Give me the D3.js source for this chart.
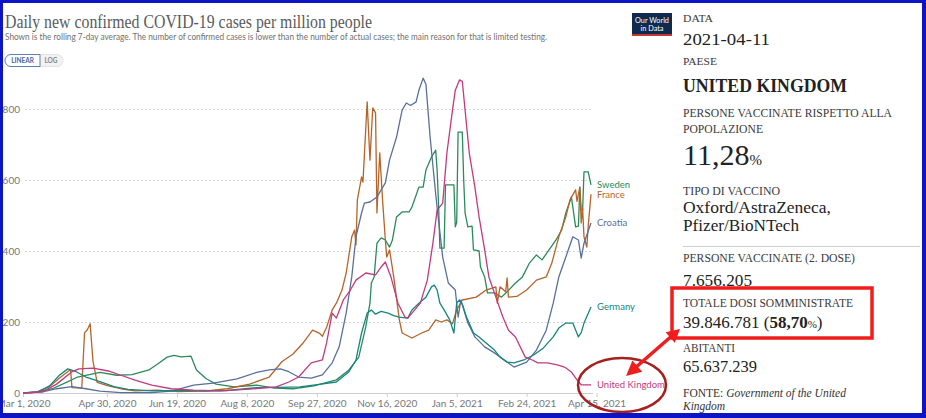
<!DOCTYPE html>
<html>
<head>
<meta charset="utf-8">
<script src="https://cdn.jsdelivr.net/npm/d3@7"></script>
<style>
  body { margin: 0; background: #fff; }
  svg { display: block; }
</style>
</head>
<body>
<div id="chart"></div>
<script>
// Series: [date, cases per million]
const sweden = [
  ["2020-03-01",0],["2020-03-12",3],["2020-03-22",12],["2020-04-01",30],["2020-04-09",45],["2020-04-25",58],
  ["2020-05-07",50],["2020-05-18",52],["2020-05-30",65],["2020-06-06",84],["2020-06-12",101],["2020-06-17",106],
  ["2020-06-22",102],["2020-06-29",104],["2020-07-03",65],["2020-07-10",40],["2020-07-17",25],["2020-07-30",17],
  ["2020-08-15",22],["2020-08-28",14],["2020-09-10",12],["2020-09-25",20],["2020-10-11",37],["2020-10-20",65],
  ["2020-10-27",101],["2020-11-01",186],["2020-11-04",253],["2020-11-05",310],["2020-11-07",327],["2020-11-09",422],
  ["2020-11-12",437],["2020-11-15",431],["2020-11-18",411],["2020-11-20",430],["2020-11-23",496],["2020-11-27",510],
  ["2020-12-02",510],["2020-12-04",524],["2020-12-09",580],["2020-12-12",580],["2020-12-14",628],["2020-12-18",665],
  ["2020-12-21",684],["2020-12-22",628],["2020-12-23",535],["2020-12-24",408],["2020-12-27",408],["2020-12-28",586],
  ["2021-01-03",586],["2021-01-04",468],["2021-01-05",480],["2021-01-06",735],["2021-01-09",735],["2021-01-10",600],
  ["2021-01-11",507],["2021-01-13",468],["2021-01-16",470],["2021-01-17",403],["2021-01-21",400],["2021-01-22",355],
  ["2021-01-25",327],["2021-01-27",282],["2021-02-01",282],["2021-02-06",270],["2021-02-10",285],["2021-02-16",310],
  ["2021-02-21",327],["2021-02-26",366],["2021-03-03",389],["2021-03-07",375],["2021-03-12",403],["2021-03-17",431],
  ["2021-03-21",459],["2021-03-24",507],["2021-03-28",552],["2021-03-31",468],["2021-04-02",470],["2021-04-03",580],
  ["2021-04-04",515],["2021-04-05",515],["2021-04-06",623],["2021-04-09",623],["2021-04-11",586]
];
const france = [
  ["2020-03-01",0],["2020-03-10",2],["2020-03-20",18],["2020-03-28",45],["2020-04-04",66],["2020-04-05",15],
  ["2020-04-12",14],["2020-04-14",170],["2020-04-16",178],["2020-04-18",195],["2020-04-20",90],["2020-04-23",30],
  ["2020-05-01",20],["2020-05-10",12],["2020-05-20",6],["2020-06-05",8],["2020-06-20",4],["2020-07-10",6],
  ["2020-07-25",12],["2020-08-10",25],["2020-08-24",45],["2020-09-02",88],["2020-09-10",110],["2020-09-17",140],
  ["2020-09-24",177],["2020-09-29",168],["2020-10-01",160],["2020-10-04",185],["2020-10-08",234],["2020-10-11",253],
  ["2020-10-15",290],["2020-10-18",338],["2020-10-22",440],["2020-10-24",459],["2020-10-25",417],["2020-10-26",544],
  ["2020-10-29",609],["2020-10-30",594],["2020-11-02",820],["2020-11-04",656],["2020-11-06",803],["2020-11-08",789],
  ["2020-11-09",507],["2020-11-11",676],["2020-11-13",544],["2020-11-15",431],["2020-11-16",383],["2020-11-18",403],
  ["2020-11-21",327],["2020-11-25",206],["2020-11-27",169],["2020-12-04",155],["2020-12-11",169],["2020-12-16",177],
  ["2020-12-21",206],["2020-12-25",200],["2020-12-29",206],["2021-01-02",195],["2021-01-05",234],["2021-01-09",262],
  ["2021-01-19",270],["2021-01-26",290],["2021-02-02",299],["2021-02-03",253],["2021-02-05",299],["2021-02-09",285],
  ["2021-02-10",324],["2021-02-11",270],["2021-02-17",272],["2021-02-24",290],["2021-03-03",318],["2021-03-10",327],
  ["2021-03-14",366],["2021-03-19",440],["2021-03-24",496],["2021-03-27",544],["2021-03-31",572],["2021-04-01",540],
  ["2021-04-03",580],["2021-04-04",479],["2021-04-05",520],["2021-04-06",440],["2021-04-08",411],["2021-04-09",470],
  ["2021-04-11",560]
];
const croatia = [
  ["2020-03-01",0],["2020-03-15",3],["2020-03-25",12],["2020-04-05",18],["2020-04-15",12],["2020-04-25",5],
  ["2020-05-10",1],["2020-06-01",1],["2020-06-15",5],["2020-07-01",22],["2020-07-15",28],["2020-08-01",40],
  ["2020-08-15",58],["2020-08-24",65],["2020-09-01",68],["2020-09-07",60],["2020-09-14",45],["2020-09-23",42],
  ["2020-10-01",51],["2020-10-08",85],["2020-10-13",130],["2020-10-18",225],["2020-10-22",327],["2020-10-25",440],
  ["2020-10-29",507],["2020-10-31",535],["2020-11-04",538],["2020-11-09",552],["2020-11-15",592],["2020-11-18",656],
  ["2020-11-23",721],["2020-11-27",797],["2020-11-30",817],["2020-12-03",810],["2020-12-07",820],["2020-12-09",853],
  ["2020-12-12",887],["2020-12-14",870],["2020-12-17",721],["2020-12-21",560],["2020-12-23",487],["2020-12-26",383],
  ["2020-12-30",310],["2021-01-04",290],["2021-01-06",214],["2021-01-08",262],["2021-01-13",197],["2021-01-18",158],
  ["2021-01-25",130],["2021-02-01",113],["2021-02-08",93],["2021-02-15",73],["2021-02-24",87],["2021-03-03",121],
  ["2021-03-10",177],["2021-03-15",253],["2021-03-19",327],["2021-03-24",383],["2021-03-29",440],["2021-04-02",431],
  ["2021-04-04",380],["2021-04-06",422],["2021-04-11",479]
];
const germany = [
  ["2020-03-01",0],["2020-03-12",3],["2020-03-20",20],["2020-03-27",50],["2020-04-02",68],["2020-04-08",60],
  ["2020-04-15",45],["2020-04-25",32],["2020-05-05",18],["2020-05-15",10],["2020-06-01",6],["2020-06-20",7],
  ["2020-07-10",5],["2020-07-25",7],["2020-08-15",15],["2020-08-30",16],["2020-09-15",17],["2020-09-30",25],
  ["2020-10-11",31],["2020-10-20",60],["2020-10-25",93],["2020-10-29",169],["2020-11-02",225],["2020-11-05",234],
  ["2020-11-08",222],["2020-11-12",230],["2020-11-17",225],["2020-11-21",218],["2020-11-25",214],["2020-12-01",211],
  ["2020-12-04",234],["2020-12-09",253],["2020-12-14",270],["2020-12-18",299],["2020-12-20",304],["2020-12-22",290],
  ["2020-12-24",253],["2020-12-27",234],["2020-12-31",206],["2021-01-03",169],["2021-01-05",253],["2021-01-07",262],
  ["2021-01-09",250],["2021-01-12",214],["2021-01-17",169],["2021-01-21",158],["2021-01-26",141],["2021-02-01",121],
  ["2021-02-05",101],["2021-02-10",87],["2021-02-15",85],["2021-02-22",93],["2021-03-01",107],["2021-03-08",127],
  ["2021-03-15",158],["2021-03-19",183],["2021-03-24",197],["2021-03-29",197],["2021-04-02",158],["2021-04-04",170],
  ["2021-04-06",197],["2021-04-11",242]
];
const unitedKingdom = [
  ["2020-03-01",0],["2020-03-15",3],["2020-03-25",25],["2020-04-05",60],["2020-04-10",68],["2020-04-20",70],
  ["2020-05-01",62],["2020-05-10",50],["2020-05-20",36],["2020-06-01",22],["2020-06-15",12],["2020-07-01",8],
  ["2020-07-20",6],["2020-08-10",11],["2020-08-29",17],["2020-09-07",31],["2020-09-14",45],["2020-09-23",85],
  ["2020-10-01",93],["2020-10-04",141],["2020-10-08",225],["2020-10-11",211],["2020-10-16",262],["2020-10-21",290],
  ["2020-10-25",318],["2020-11-01",338],["2020-11-08",333],["2020-11-12",355],["2020-11-15",369],["2020-11-19",327],
  ["2020-11-24",253],["2020-11-29",214],["2020-12-01",211],["2020-12-06",234],["2020-12-10",253],["2020-12-15",318],
  ["2020-12-19",422],["2020-12-22",515],["2020-12-26",535],["2020-12-29",676],["2021-01-02",797],["2021-01-04",853],
  ["2021-01-07",882],["2021-01-09",878],["2021-01-11",797],["2021-01-14",676],["2021-01-18",580],["2021-01-21",496],
  ["2021-01-25",403],["2021-01-28",327],["2021-02-02",270],["2021-02-07",214],["2021-02-11",177],["2021-02-16",158],
  ["2021-02-23",101],["2021-02-28",93],["2021-03-04",85],["2021-03-11",85],["2021-03-18",79],["2021-03-23",73],
  ["2021-03-28",59],["2021-04-01",37],["2021-04-04",23],["2021-04-11",23]
];

const countries = ["Sweden", "France", "Croatia", "Germany", "United Kingdom"];
const seriesValues = [sweden, france, croatia, germany, unitedKingdom];
const colors = ["#2b8a5c", "#b5652a", "#5a6f9c", "#16857f", "#c23a82"];

const xTicks = ["2020-03-01","2020-04-30","2020-06-19","2020-08-08","2020-09-27","2020-11-16","2021-01-05","2021-02-24","2021-04-15"];
const yTicks = [0, 200, 400, 600, 800];

const svg = d3.select("#chart").append("svg")
    .attr("width", 926)
    .attr("height", 418);

const parse = d3.utcParse("%Y-%m-%d");

// Scales
const x = d3.scaleUtc()
    .domain([parse("2020-03-01"), parse("2021-04-11")])
    .range([23, 591]);
const y = d3.scaleLinear()
    .domain([0, 800])
    .range([393, 109]);

// Title and subtitle
svg.append("text")
    .attr("x", 5).attr("y", 28)
    .attr("font-family", "Liberation Serif, serif")
    .attr("font-size", 19)
    .attr("fill", "#5b5b5b")
    .attr("textLength", 367).attr("lengthAdjust", "spacingAndGlyphs")
    .text("Daily new confirmed COVID-19 cases per million people");

svg.append("text")
    .attr("x", 5).attr("y", 39.5)
    .attr("font-family", "Lato, sans-serif")
    .attr("font-size", 9.4)
    .attr("fill", "#707070")
    .attr("textLength", 542).attr("lengthAdjust", "spacingAndGlyphs")
    .text("Shown is the rolling 7-day average. The number of confirmed cases is lower than the number of actual cases; the main reason for that is limited testing.");

// LINEAR / LOG toggle
const toggle = svg.append("g").attr("font-family", "Lato, sans-serif").attr("font-size", 6.5).attr("font-weight", 700);
toggle.append("rect").attr("x", 5).attr("y", 54.5).attr("width", 58).attr("height", 12).attr("rx", 6)
    .attr("fill", "#f2f2f2").attr("stroke", "#dcdcdc").attr("stroke-width", 0.8);
toggle.append("path").attr("d", "M40,54.5 H11 A6,6 0 0 0 11,66.5 H40 Z")
    .attr("fill", "#fff").attr("stroke", "#5a82b8").attr("stroke-width", 1);
toggle.append("text").attr("x", 22.5).attr("y", 62.8).attr("text-anchor", "middle").attr("fill", "#3f68a8").text("LINEAR");
toggle.append("text").attr("x", 51).attr("y", 62.8).attr("text-anchor", "middle").attr("fill", "#888").text("LOG");

// Our World in Data logo
const logo = svg.append("g");
logo.append("rect").attr("x", 632).attr("y", 13).attr("width", 40).attr("height", 23).attr("fill", "#0f2a4d");
logo.append("rect").attr("x", 632).attr("y", 34).attr("width", 40).attr("height", 2).attr("fill", "#c5382f");
logo.append("text").attr("x", 652).attr("y", 22.5).attr("text-anchor", "middle")
    .attr("font-family", "Lato, sans-serif").attr("font-size", 7.3).attr("fill", "#fff").text("Our World");
logo.append("text").attr("x", 652).attr("y", 30.5).attr("text-anchor", "middle")
    .attr("font-family", "Lato, sans-serif").attr("font-size", 7.3).attr("fill", "#fff").text("in Data");

// Y axis with dashed grid
const yAxis = svg.append("g")
    .attr("transform", "translate(25,0)")
    .call(d3.axisLeft(y).tickValues(yTicks).tickSize(-568).tickPadding(5));
yAxis.select(".domain").remove();
yAxis.selectAll(".tick line")
    .attr("stroke", d => d === 0 ? "none" : "#d6d6d6")
    .attr("stroke-dasharray", "2,2");
yAxis.selectAll("text")
    .attr("font-family", "Lato, sans-serif").attr("font-size", 10).attr("fill", "#777");

// X axis
const xAxis = svg.append("g")
    .attr("transform", "translate(0,393)")
    .call(d3.axisBottom(x)
        .tickValues(xTicks.map(parse))
        .tickFormat(d3.utcFormat("%b %-d, %Y"))
        .tickSize(4).tickSizeOuter(0).tickPadding(3));
xAxis.select(".domain").attr("stroke", "#ccc").attr("d", "M23,0.5H593");
xAxis.selectAll(".tick line").attr("stroke", "#ccc");
xAxis.selectAll("text")
    .attr("font-family", "Lato, sans-serif").attr("font-size", 10).attr("fill", "#777");

// Lines
const line = d3.line()
    .x(d => x(parse(d[0])))
    .y(d => y(d[1]));

svg.selectAll(".series")
    .data(seriesValues)
    .enter()
    .append("path")
    .attr("class", "series")
    .attr("d", line)
    .attr("fill", "none")
    .attr("stroke", (d, i) => colors[i])
    .attr("stroke-width", 1.3)
    .attr("stroke-linejoin", "round");

// End labels
svg.selectAll(".label")
    .data(seriesValues)
    .enter()
    .append("text")
    .attr("class", "label")
    .attr("x", 597)
    .attr("y", d => y(d[d.length - 1][1]))
    .attr("dy", "0.35em")
    .attr("font-family", "Lato, sans-serif")
    .attr("font-size", 9.5)
    .attr("fill", (d, i) => colors[i])
    .text((d, i) => countries[i]);

// Right-hand info panel
const panel = svg.append("g").attr("font-family", "Liberation Serif, serif");
const items = [
    ["DATA", 22, 11, 400, 30, "#3a3a3a"],
    ["2021-04-11", 45, 17, 400, 87, "#222"],
    ["PAESE", 65, 11, 400, 34, "#3a3a3a"],
    ["UNITED KINGDOM", 92, 19, 700, 164, "#222"],
    ["PERSONE VACCINATE RISPETTO ALLA", 117, 11.5, 400, 209, "#3a3a3a"],
    ["POPOLAZIONE", 133, 11.5, 400, 80, "#3a3a3a"],
    ["TIPO DI VACCINO", 195, 11.5, 400, 97, "#3a3a3a"],
    ["Oxford/AstraZeneca,", 213, 17, 400, 148, "#222"],
    ["Pfizer/BioNTech", 231, 17, 400, 116, "#222"],
    ["PERSONE VACCINATE (2. DOSE)", 262, 11.5, 400, 172, "#3a3a3a"],
    ["7.656.205", 286, 17, 400, 69, "#222"],
    ["TOTALE DOSI SOMMINISTRATE", 307, 11.5, 400, 170, "#3a3a3a"],
    ["ABITANTI", 352, 11.5, 400, 52, "#3a3a3a"],
    ["65.637.239", 372, 17, 400, 74, "#222"]
];
items.forEach(([t, yy, size, weight, len, fill]) => {
    panel.append("text")
        .attr("x", 683).attr("y", yy)
        .attr("font-size", size).attr("font-weight", weight).attr("fill", fill)
        .attr("textLength", len).attr("lengthAdjust", "spacingAndGlyphs")
        .text(t);
});

const pct = panel.append("text").attr("x", 683).attr("y", 165).attr("fill", "#222");
pct.append("tspan").attr("font-size", 30).text("11,28");
pct.append("tspan").attr("font-size", 15).text("%");

const doses = panel.append("text").attr("x", 683).attr("y", 328).attr("fill", "#222").attr("font-size", 17);
doses.append("tspan").text("39.846.781 (");
doses.append("tspan").attr("font-weight", 700).text("58,70");
doses.append("tspan").attr("font-size", 11).text("%");
doses.append("tspan").text(")");

const source = panel.append("text").attr("x", 683).attr("y", 397).attr("fill", "#333").attr("font-size", 11.5);
source.append("tspan").text("FONTE: ");
source.append("tspan").attr("font-style", "italic").text("Government of the United");
panel.append("text").attr("x", 683).attr("y", 410).attr("fill", "#333").attr("font-size", 11.5)
    .attr("font-style", "italic").text("Kingdom");

panel.append("line").attr("x1", 683).attr("x2", 920).attr("y1", 246.5).attr("y2", 246.5)
    .attr("stroke", "#cfcfcf").attr("stroke-width", 1);

// Red annotations
svg.append("rect")
    .attr("x", 672).attr("y", 288).attr("width", 200).attr("height", 50)
    .attr("fill", "none").attr("stroke", "#f01d1d").attr("stroke-width", 3.5);

svg.append("ellipse")
    .attr("cx", 622).attr("cy", 385).attr("rx", 44).attr("ry", 27)
    .attr("fill", "none").attr("stroke", "#a5201e").attr("stroke-width", 2.5);

const head = (tip, from, len, half) => {
    const dx = tip[0] - from[0], dy = tip[1] - from[1];
    const l = Math.hypot(dx, dy), ux = dx / l, uy = dy / l;
    const bx = tip[0] - ux * len, by = tip[1] - uy * len;
    return [tip, [bx - uy * half, by + ux * half], [bx + uy * half, by - ux * half]];
};
const a = [680, 329], b = [626, 376];
svg.append("line")
    .attr("x1", a[0] - 6).attr("y1", a[1] + 5).attr("x2", b[0] + 9).attr("y2", b[1] - 8)
    .attr("stroke", "#f01d1d").attr("stroke-width", 3.5);
[head(b, a, 15, 7.5), head(a, b, 13, 7)].forEach(p => {
    svg.append("polygon").attr("points", p.map(q => q.join(",")).join(" ")).attr("fill", "#f01d1d");
});

// Blue frame of the screenshot
const frame = [[0, 0, 926, 3], [0, 0, 3, 418], [922, 0, 4, 418], [0, 413, 926, 5]];
frame.forEach(([fx, fy, fw, fh]) => {
    svg.append("rect").attr("x", fx).attr("y", fy).attr("width", fw).attr("height", fh).attr("fill", "#0c14c6");
});
</script>
</body>
</html>
